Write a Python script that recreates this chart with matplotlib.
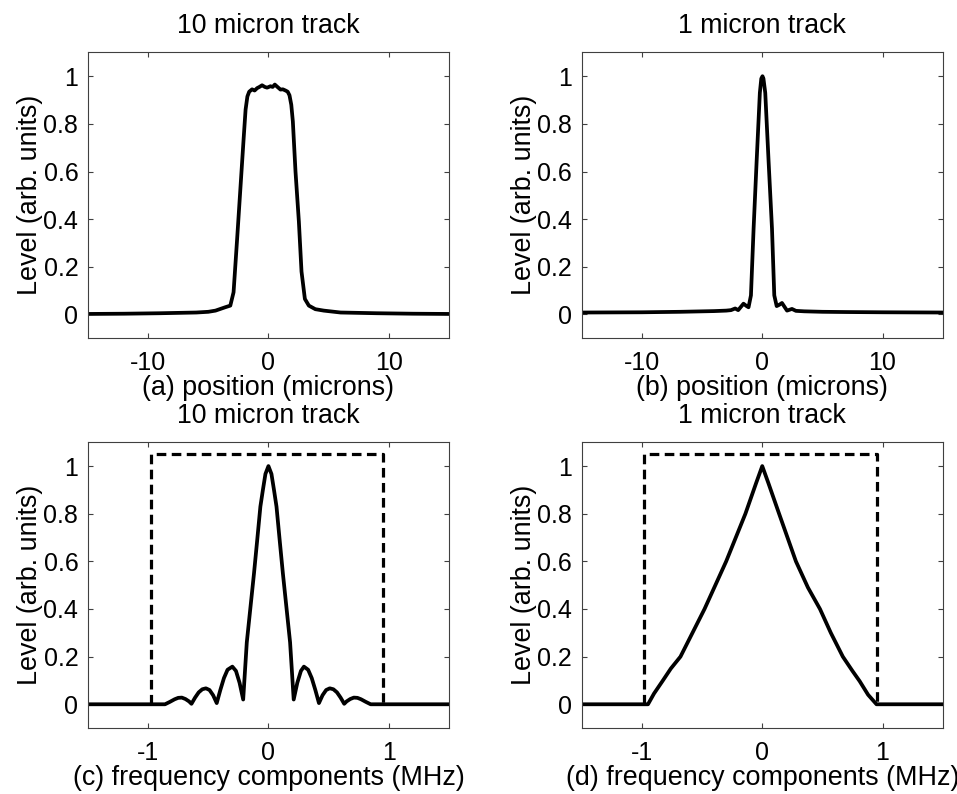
import matplotlib.pyplot as plt

plt.rcParams['font.family'] = ['Liberation Sans', 'DejaVu Sans']
plt.rcParams['font.size'] = 18

# (a) 10 micron track, level vs position (microns)
xa = [-15, -12, -9, -6, -5, -4.4, -3.6, -3.17, -2.9, -2.6, -2.33, -2.06, -1.9, -1.75, -1.6,
      -1.36, -1.15, -0.94, -0.75, -0.53, -0.3, -0.11, 0.17, 0.35, 0.53, 0.75, 1.0, 1.2, 1.42,
      1.6, 1.75, 1.9, 2.03, 2.25, 2.53, 2.75, 3.03, 3.36, 3.9, 4.6, 6, 9, 12, 15]
ya = [0.002, 0.003, 0.005, 0.008, 0.011, 0.016, 0.03, 0.037, 0.093, 0.32, 0.53, 0.74, 0.86, 0.915, 0.935,
      0.945, 0.94, 0.95, 0.955, 0.962, 0.955, 0.952, 0.958, 0.955, 0.965, 0.955, 0.944, 0.945, 0.94,
      0.935, 0.92, 0.88, 0.81, 0.60, 0.39, 0.18, 0.065, 0.037, 0.022, 0.016, 0.008, 0.005, 0.003, 0.002]

# (b) 1 micron track
xb = [-15, -10, -6.8, -4, -3.0, -2.6, -2.25, -2.0, -1.56, -1.3, -1.14, -0.94, -0.72, -0.47, -0.2,
      -0.08, 0.02, 0.1, 0.25, 0.53, 0.81, 1.0, 1.2, 1.4, 1.64, 2.06, 2.47, 2.8, 3.5, 5, 7, 10, 15]
yb = [0.008, 0.009, 0.011, 0.014, 0.016, 0.018, 0.025, 0.018, 0.045, 0.035, 0.03, 0.08, 0.36, 0.64, 0.93,
      0.99, 1.0, 0.99, 0.93, 0.64, 0.36, 0.08, 0.035, 0.04, 0.048, 0.016, 0.023, 0.015, 0.013, 0.011, 0.01, 0.009, 0.008]

# (c) frequency components, 10 micron track
xc = [-1.5, -0.86, -0.82, -0.78, -0.75, -0.72, -0.69, -0.66, -0.64, -0.61, -0.58, -0.55, -0.52, -0.49,
      -0.46, -0.43, -0.40, -0.37, -0.34, -0.30, -0.27, -0.24, -0.21, -0.18, -0.15, -0.12, -0.094,
      -0.067, -0.047, -0.025, 0.0, 0.025, 0.047, 0.067, 0.094, 0.12, 0.15, 0.18, 0.21, 0.24, 0.27,
      0.295, 0.33, 0.36, 0.39, 0.42, 0.45, 0.48, 0.51, 0.54, 0.57, 0.60, 0.63, 0.65, 0.68, 0.71,
      0.74, 0.77, 0.81, 0.85, 1.5]
yc = [0.0, 0.0, 0.01, 0.021, 0.027, 0.028, 0.022, 0.012, 0.002, 0.028, 0.05, 0.063, 0.067, 0.06,
      0.038, 0.005, 0.06, 0.11, 0.145, 0.158, 0.14, 0.09, 0.02, 0.26, 0.405, 0.55, 0.686,
      0.83, 0.897, 0.967, 1.0, 0.967, 0.897, 0.83, 0.686, 0.55, 0.405, 0.26, 0.02, 0.09, 0.14,
      0.158, 0.145, 0.11, 0.06, 0.005, 0.038, 0.06, 0.067, 0.063, 0.05, 0.028, 0.002, 0.012, 0.022, 0.028,
      0.027, 0.021, 0.01, 0.0, 0.0]

# (d) frequency components, 1 micron track
xd = [-1.5, -0.95, -0.9, -0.83, -0.76, -0.68, -0.6, -0.48, -0.39, -0.30, -0.22, -0.14,
      -0.05, 0.0, 0.05, 0.14, 0.21, 0.28, 0.38, 0.48, 0.57, 0.67, 0.75, 0.81, 0.88, 0.95, 1.5]
yd = [0.0, 0.0, 0.045, 0.097, 0.15, 0.2, 0.28, 0.4, 0.5, 0.6, 0.7, 0.8,
      0.93, 1.0, 0.93, 0.8, 0.7, 0.6, 0.49, 0.4, 0.3, 0.2, 0.14, 0.097, 0.04, 0.0, 0.0]

# filter passband (dashed)
xf = [-0.98, -0.98, 0.95, 0.95]
yf = [0.0, 1.05, 1.05, 0.0]

titles = ['10 micron track', '1 micron track', '10 micron track', '1 micron track']
xlabels = ['(a) position (microns)', '(b) position (microns)',
           '(c) frequency components (MHz)', '(d) frequency components (MHz)']
yticks = [0, 0.2, 0.4, 0.6, 0.8, 1]
ytick_labels = ['0', '0.2', '0.4', '0.6', '0.8', '1']

fig = plt.figure(figsize=(9.57, 7.94), dpi=100)
rects = [[0.092, 0.574, 0.377, 0.360], [0.608, 0.574, 0.377, 0.360],
         [0.092, 0.083, 0.377, 0.360], [0.608, 0.083, 0.377, 0.360]]
axs = [fig.add_axes(r) for r in rects]

axs[0].plot(xa, ya, color='k', lw=2.7)
axs[1].plot(xb, yb, color='k', lw=2.7)
axs[2].plot(xc, yc, color='k', lw=2.7)
axs[2].plot(xf, yf, color='k', lw=2.3, linestyle=(0, (3.0, 1.7)))
axs[3].plot(xd, yd, color='k', lw=2.7)
axs[3].plot(xf, yf, color='k', lw=2.3, linestyle=(0, (3.0, 1.7)))

for i, ax in enumerate(axs):
    if i < 2:
        ax.set_xlim(-15, 15)
        ax.set_xticks([-10, 0, 10])
        ax.set_xticklabels(['-10', '0', '10'])
    else:
        ax.set_xlim(-1.5, 1.5)
        ax.set_xticks([-1, 0, 1])
        ax.set_xticklabels(['-1', '0', '1'])
    ax.set_title(titles[i], fontsize=19.3, pad=14)
    ax.set_ylim(-0.1, 1.1)
    ax.set_yticks(yticks)
    ax.set_yticklabels(ytick_labels)
    ax.set_xlabel(xlabels[i], fontsize=19.4, labelpad=0.5)
    ax.set_ylabel('Level (arb. units)', fontsize=19.4, labelpad=0)
    ax.tick_params(direction='in', top=True, right=True, length=3.6, width=0.8, color='#404040')
    ax.tick_params(axis='x', pad=9)
    ax.tick_params(axis='y', pad=7)
    for s in ax.spines.values():
        s.set_color('#404040')
        s.set_linewidth(0.8)

plt.savefig('out.png', dpi=100, facecolor='white')
